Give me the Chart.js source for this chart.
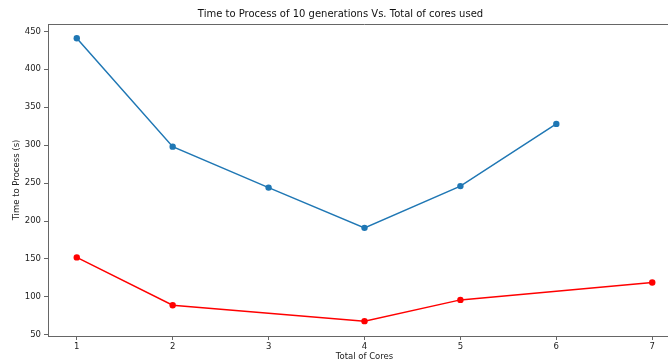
<!DOCTYPE html>
<html>
<head>
<meta charset="utf-8">
<script src="https://cdn.jsdelivr.net/npm/chart.js@4.4.0/dist/chart.umd.min.js"></script>
<style>
  html, body { margin: 0; padding: 0; background: #fff; overflow: hidden; }
  #wrap { width: 700px; height: 362px; }
</style>
</head>
<body>
<div id="wrap"><canvas id="coresChart" width="700" height="362"></canvas></div>
<script>
// données
var blueCores = [1, 2, 3, 4, 5, 6];
var blueTimes = [441, 298, 244, 191, 246, 328];
var redCores = [1, 2, 4, 5, 7];
var redTimes = [152, 89, 68, 96, 119];
var yTicks = [50, 100, 150, 200, 250, 300, 350, 400, 450];
var xTicks = [1, 2, 3, 4, 5, 6, 7];

function toPoints(xs, ys) {
    return xs.map(function(x, i) { return { x: x, y: ys[i] }; });
}

var axisColor = '#666';
var tickFont = { family: 'DejaVu Sans', size: 8.5 };

var ctx = document.getElementById('coresChart').getContext('2d');
var chart = new Chart(ctx, {
    type: 'line',
    data: {
        datasets: [{
            data: toPoints(blueCores, blueTimes),
            borderColor: '#1f77b4',
            backgroundColor: '#1f77b4',
            borderWidth: 1.5,
            pointRadius: 3.2,
            pointBorderWidth: 0,
            tension: 0
        }, {
            data: toPoints(redCores, redTimes),
            borderColor: '#ff0000',
            backgroundColor: '#ff0000',
            borderWidth: 1.5,
            pointRadius: 3.2,
            pointBorderWidth: 0,
            tension: 0
        }]
    },
    options: {
        responsive: false,
        animation: false,
        layout: { padding: { left: 0, right: 19, top: 0, bottom: 0 } },
        scales: {
            x: {
                type: 'linear',
                min: 0.7,
                max: 7.3,
                afterBuildTicks: function(axis) {
                    axis.ticks = xTicks.map(function(v) { return { value: v }; });
                },
                afterFit: function(axis) { axis.height = 26; },
                grid: { drawOnChartArea: false, tickLength: 4, color: axisColor },
                border: { color: axisColor, width: 1 },
                ticks: { color: '#222', font: tickFont, padding: 2, maxRotation: 0 },
                title: {
                    display: true,
                    text: 'Total of Cores',
                    color: '#222',
                    font: tickFont,
                    padding: { top: 1, bottom: 0 }
                }
            },
            y: {
                min: 48.4,
                max: 459.7,
                afterBuildTicks: function(axis) {
                    axis.ticks = yTicks.map(function(v) { return { value: v }; });
                },
                afterFit: function(axis) { axis.width = 48; },
                grid: { drawOnChartArea: false, tickLength: 4, color: axisColor },
                border: { color: axisColor, width: 1 },
                ticks: { color: '#222', font: tickFont, padding: 3 },
                title: {
                    display: true,
                    text: 'Time to Process (s)',
                    color: '#222',
                    font: tickFont,
                    padding: { top: 12, bottom: 2 }
                }
            }
        },
        plugins: {
            legend: { display: false },
            tooltip: { enabled: false },
            title: {
                display: true,
                text: 'Time to Process of 10 generations Vs. Total of cores used',
                color: '#111',
                font: { family: 'DejaVu Sans', size: 10, weight: 'normal' },
                padding: { top: 8, bottom: 4 }
            }
        }
    },
    plugins: [{
        // cadre du haut comme matplotlib
        id: 'topFrame',
        afterDraw: function(c) {
            var a = c.chartArea, g = c.ctx;
            g.save();
            g.strokeStyle = axisColor;
            g.lineWidth = 1;
            g.beginPath();
            g.moveTo(a.left, a.top + 0.5);
            g.lineTo(a.right, a.top + 0.5);
            g.moveTo(a.right - 0.5, a.top);
            g.lineTo(a.right - 0.5, a.bottom);
            g.stroke();
            g.restore();
        }
    }]
});
</script>
</body>
</html>
